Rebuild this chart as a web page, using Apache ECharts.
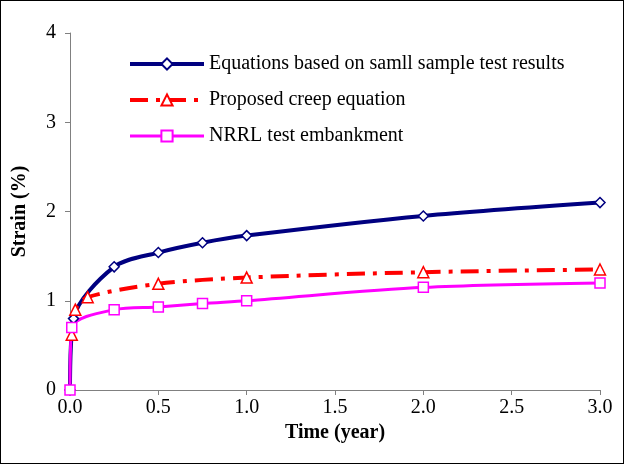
<!DOCTYPE html>
<html lang="en">
<head>
<meta charset="UTF-8">
<title>Strain</title>
<style>
  html, body { margin: 0; padding: 0; background: #fff; }
  #main { width: 622px; height: 462px; border: 1px solid #000; }
</style>
</head>
<body>
<div id="main"></div>
<script src="https://cdn.jsdelivr.net/npm/echarts@6/dist/echarts.min.js"></script>
<script>
  var blueData = [[0, 0], [0.02, 0.8], [0.25, 1.38], [0.5, 1.54], [0.75, 1.65], [1, 1.73], [2, 1.95], [3, 2.1]];
  var redData = [[0.01, 0.62], [0.03, 0.9], [0.1, 1.04], [0.5, 1.19], [1, 1.26], [2, 1.32], [3, 1.35]];
  var pinkData = [[0, 0], [0.01, 0.7], [0.25, 0.9], [0.5, 0.93], [0.75, 0.97], [1, 1.0], [2, 1.15], [3, 1.2]];
  var names = ['Equations based on samll sample test results', 'Proposed creep equation', 'NRRL test embankment'];

  var font = "'Liberation Serif', serif";
  var myChart = echarts.init(document.getElementById('main'));
  var option = {
    animation: false,
    textStyle: { fontFamily: font },
    grid: { left: 69, right: 23, top: 32, bottom: 73 },
    legend: {
      orient: 'vertical', left: 122, top: 48, itemGap: 16, itemWidth: 74, itemHeight: 14,
      textStyle: { fontFamily: font, fontSize: 20, color: '#000' },
      data: [
        { name: names[0], lineStyle: { width: 4 } },
        { name: names[1], lineStyle: { width: 4 } },
        { name: names[2], lineStyle: { width: 3 } }
      ]
    },
    xAxis: {
      type: 'value', min: 0, max: 3, interval: 0.5,
      name: 'Time (year)', nameLocation: 'middle', nameGap: 24,
      nameTextStyle: { fontFamily: font, fontSize: 20, fontWeight: 'bold', color: '#000' },
      axisLine: { lineStyle: { color: '#808080' } },
      axisTick: { inside: false, length: 5, lineStyle: { color: '#808080' } },
      axisLabel: { fontFamily: font, color: '#000', fontSize: 20, formatter: function (v) { return v.toFixed(1); } },
      splitLine: { show: false }
    },
    yAxis: {
      type: 'value', min: 0, max: 4, interval: 1,
      name: 'Strain (%)', nameLocation: 'middle', nameGap: 40,
      nameTextStyle: { fontFamily: font, fontSize: 20, fontWeight: 'bold', color: '#000' },
      axisLine: { show: true, lineStyle: { color: '#808080' } },
      axisTick: { show: true, length: 5, lineStyle: { color: '#808080' } },
      axisLabel: { fontFamily: font, color: '#000', fontSize: 20, margin: 14 },
      splitLine: { show: false }
    },
    series: [
      {
        name: names[0], type: 'line', smooth: 0.3, data: blueData,
        symbol: 'diamond', symbolSize: 10,
        lineStyle: { color: '#000080', width: 4 },
        itemStyle: { color: '#fff', borderColor: '#000080', borderWidth: 1.5 }
      },
      {
        name: names[1], type: 'line', smooth: 0.3, data: redData,
        symbol: 'triangle', symbolSize: 11,
        lineStyle: { color: '#ff0000', width: 4, type: [18, 8, 4, 8] },
        itemStyle: { color: '#fff', borderColor: '#ff0000', borderWidth: 1.5 }
      },
      {
        name: names[2], type: 'line', smooth: 0.3, data: pinkData,
        symbol: 'rect', symbolSize: 10,
        lineStyle: { color: '#ff00ff', width: 3 },
        itemStyle: { color: '#fff', borderColor: '#ff00ff', borderWidth: 1.5 }
      }
    ]
  };
  myChart.setOption(option);
</script>
</body>
</html>
